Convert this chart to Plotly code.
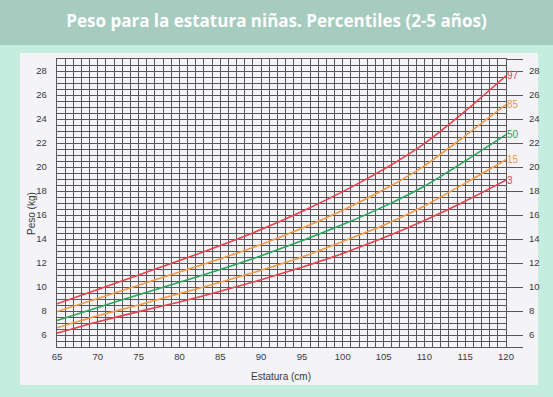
import plotly.graph_objects as go

# Data
estatura = [65, 70, 75, 80, 85, 90, 95, 100, 105, 110, 115, 120]
p97 = [8.6, 9.8, 11.0, 12.2, 13.45, 14.8, 16.3, 17.95, 19.8, 21.95, 24.65, 27.6]
p85 = [7.95, 9.05, 10.15, 11.25, 12.35, 13.55, 14.9, 16.4, 18.1, 20.1, 22.6, 25.2]
p50 = [7.2, 8.3, 9.35, 10.4, 11.45, 12.6, 13.85, 15.2, 16.7, 18.4, 20.5, 22.7]
p15 = [6.6, 7.6, 8.5, 9.45, 10.4, 11.4, 12.5, 13.8, 15.15, 16.75, 18.65, 20.6]
p3 = [6.15, 7.1, 7.95, 8.75, 9.65, 10.6, 11.65, 12.8, 14.1, 15.55, 17.15, 18.9]

series = [("97", p97, "#e8424c"), ("85", p85, "#f29a48"), ("50", p50, "#2ba75b"),
          ("15", p15, "#f29a48"), ("3", p3, "#e8424c")]

y_ticks = [6, 8, 10, 12, 14, 16, 18, 20, 22, 24, 26, 28]
x_ticks = [65, 70, 75, 80, 85, 90, 95, 100, 105, 110, 115, 120]

W, H = 553, 397
L, R, T, B = 57, 47, 59, 50
pw, ph = W - L - R, H - T - B

def px(x):
    return (x - L) / pw

def py(y):
    return (H - B - y) / ph

narrow = "Liberation Sans Narrow, Liberation Sans, sans-serif"
tfont = dict(family=narrow, size=9.5, color="#3a3a3a")
grid_col = "#575757"

fig = go.Figure()
for name, vals, col in series:
    fig.add_trace(go.Scatter(x=estatura, y=vals, mode="lines",
                             line=dict(color=col, width=1.6, shape="spline", smoothing=0.6),
                             showlegend=False, hoverinfo="skip"))
    fig.add_annotation(x=estatura[-1], y=vals[-1], text=name, showarrow=False,
                       xanchor="left", yanchor="middle", xshift=-1,
                       font=dict(family=narrow, size=10, color=col))

# invisible trace for right axis
fig.add_trace(go.Scatter(x=[65], y=[5], yaxis="y2", mode="markers",
                         marker=dict(opacity=0), showlegend=False, hoverinfo="skip"))

panel = "#f3f3f8"
fig.add_shape(type="rect", xref="paper", yref="paper", x0=px(0), x1=px(W), y0=py(45), y1=py(0),
              fillcolor="#a6cbbf", line_width=0, layer="below")
fig.add_shape(type="rect", xref="paper", yref="paper", x0=px(20), x1=px(538), y0=py(385), y1=py(53),
              fillcolor=panel, line_width=0, layer="below")

fig.update_layout(
    width=W, height=H,
    margin=dict(l=L, r=R, t=T, b=B, autoexpand=False),
    paper_bgcolor="#c4ecdf",
    plot_bgcolor=panel,
    title=dict(text="<b>Peso para la estatura niñas. Percentiles (2-5 años)</b>",
               x=0.5, xref="container", y=1 - 21 / H, yref="container",
               xanchor="center", yanchor="middle",
               font=dict(family="Open Sans", size=17, color="white")),
    xaxis=dict(range=[65, 120], tickvals=x_ticks, ticktext=[str(v) for v in x_ticks],
               showgrid=True, gridcolor=grid_col, gridwidth=1.4,
               minor=dict(dtick=1, tick0=65, showgrid=True, gridcolor=grid_col, gridwidth=1.4),
               zeroline=False, showline=True, linecolor=grid_col, linewidth=1.4, mirror=True,
               tickfont=tfont, ticks="", automargin=False),
    yaxis=dict(range=[5, 29], tickvals=y_ticks, ticktext=[str(v) for v in y_ticks],
               showgrid=True, gridcolor=grid_col, gridwidth=1.4,
               minor=dict(dtick=0.5, tick0=5, showgrid=True, gridcolor=grid_col, gridwidth=1.4),
               zeroline=False, showline=True, linecolor=grid_col, linewidth=1.4, mirror=True,
               tickfont=tfont, ticks="", ticklabelstandoff=7, automargin=False),
    yaxis2=dict(range=[5, 29], overlaying="y", side="right",
                tickvals=[5] + y_ticks + [29], ticktext=[""] + [str(v) for v in y_ticks] + [""],
                ticks="outside", ticklen=16, tickwidth=1.4, tickcolor=grid_col,
                showgrid=False, zeroline=False, showline=False,
                tickfont=tfont, ticklabelstandoff=4, automargin=False),
)

fig.add_annotation(text="Estatura (cm)", xref="paper", yref="paper", x=px(281), y=py(376),
                   showarrow=False, xanchor="center", yanchor="middle",
                   font=dict(family=narrow, size=10, color="#3a3a3a"))
fig.add_annotation(text="Peso (kg)", xref="paper", yref="paper", x=px(31), y=py(214),
                   showarrow=False, xanchor="center", yanchor="middle", textangle=-90,
                   font=dict(family=narrow, size=10, color="#3a3a3a"))

fig.write_html("out.html", config={"displayModeBar": False},
               post_script="document.body.style.margin='0';document.body.style.padding='0';")
